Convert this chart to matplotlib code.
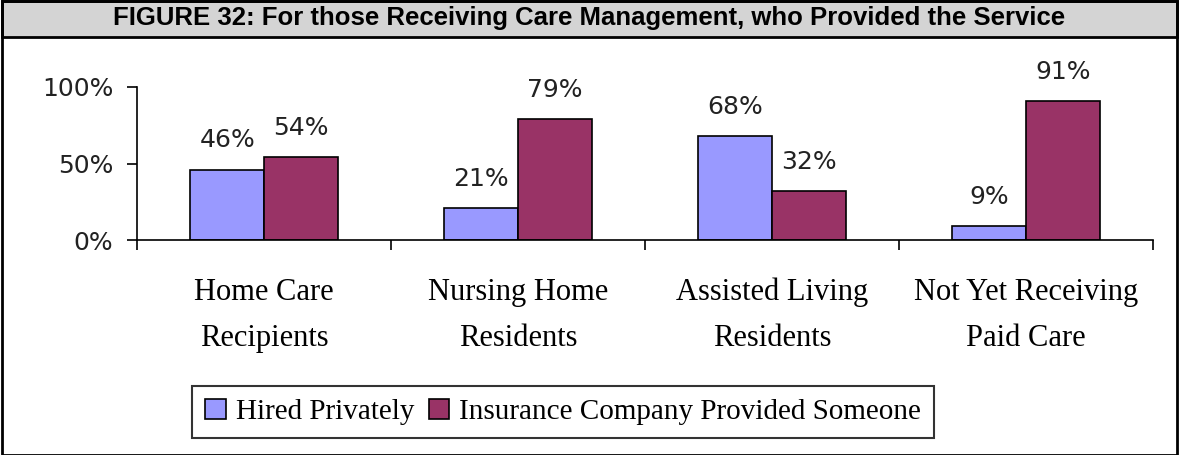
import numpy as np
import matplotlib.pyplot as plt
from matplotlib.patches import Rectangle

categories = ["Home Care\nRecipients", "Nursing Home\nResidents",
              "Assisted Living\nResidents", "Not Yet Receiving\nPaid Care"]
hired_privately = [46, 21, 68, 9]
insurance_provided = [54, 79, 32, 91]
series_names = ["Hired Privately", "Insurance Company Provided Someone"]
title = "FIGURE 32: For those Receiving Care Management, who Provided the Service"

blue = "#9999FF"
maroon = "#993366"
serif = "Liberation Serif"

fig = plt.figure(figsize=(11.79, 4.55), dpi=100)
ax = fig.add_axes([137 / 1179, 1 - 240 / 455, (1153 - 137) / 1179, (240 - 87) / 455])

x = np.arange(len(categories))
w = 0.29
b1 = ax.bar(x - w / 2, hired_privately, w, color=blue, edgecolor="black", linewidth=1.2,
            label=series_names[0])
b2 = ax.bar(x + w / 2, insurance_provided, w, color=maroon, edgecolor="black", linewidth=1.2,
            label=series_names[1])

for bars in (b1, b2):
    for r in bars:
        ax.annotate(f"{int(r.get_height())}%", (r.get_x() + r.get_width() / 2, r.get_height()),
                    xytext=(0, 16), textcoords="offset points", ha="center", va="baseline",
                    fontsize=18, color="#222222")

ax.set_xlim(-0.5, len(categories) - 0.5)
ax.set_ylim(0, 100)
ax.set_yticks([0, 50, 100])
ax.set_yticklabels(["0%", "50%", "100%"], fontsize=18, color="#222222")

# category labels, one line at a time so the baselines line up
ax.set_xticks(x)
ax.set_xticklabels([])
ax.tick_params(axis="x", which="major", length=0)
for i, cat in enumerate(categories):
    for k, line in enumerate(cat.split("\n")):
        ax.annotate(line, (i, 0), xycoords=("data", "axes fraction"),
                    xytext=(0, -43 - 33 * k), textcoords="offset points",
                    ha="center", va="baseline", family=serif, fontsize=22)

ax.set_xticks(np.arange(-0.5, len(categories)), minor=True)
ax.tick_params(axis="x", which="minor", length=7, width=1.2, direction="out")
ax.tick_params(axis="y", length=7, width=1.2, pad=10)
for s in ("top", "right"):
    ax.spines[s].set_visible(False)
for s in ("left", "bottom"):
    ax.spines[s].set_linewidth(1.2)

leg = fig.legend(handles=[b1, b2], labels=series_names, loc="center left",
                 bbox_to_anchor=(192 / 1179, 1 - 439 / 455, 0.7, 54 / 455),
                 ncol=2, frameon=True, fancybox=False, edgecolor="black",
                 prop={"family": serif, "size": 21}, handlelength=0.7, handleheight=0.7,
                 handletextpad=0.35, columnspacing=0.5, borderaxespad=0, borderpad=0.45)
leg.get_frame().set_linewidth(1.5)

# title bar and outer frame
fig.patches.append(Rectangle((0.002, 1 - 37 / 455), 0.996, 37 / 455 - 0.003,
                             transform=fig.transFigure, facecolor="#D4D4D4",
                             edgecolor="black", linewidth=2, zorder=0))
fig.patches.append(Rectangle((0.002, 0.0), 0.996, 0.997, transform=fig.transFigure,
                             facecolor="none", edgecolor="black", linewidth=2, zorder=0))
fig.text(0.5, 1 - 18 / 455, title, ha="center", va="center", fontsize=18.5,
         fontweight="bold", family="Liberation Sans")

fig.savefig("out.png", dpi=100)
